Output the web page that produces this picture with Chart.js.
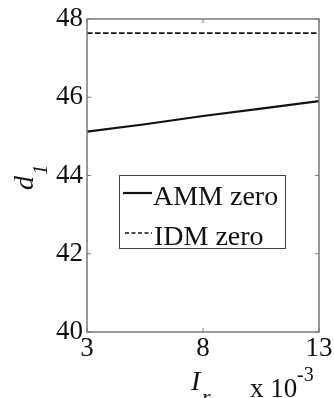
<!DOCTYPE html>
<html>
<head>
<meta charset="utf-8">
<script src="https://cdn.jsdelivr.net/npm/chart.js@4"></script>
<style>
  html, body { margin: 0; padding: 0; background: #fff; }
  #wrap { width: 334px; height: 398px; position: relative; }
</style>
</head>
<body>
<div id="wrap"><canvas id="myChart"></canvas></div>
<script>
// d1 versus Ir (x 10^-3)
const irValues = [3, 5.5, 8, 10.5, 13];
const ammZero = [45.12, 45.31, 45.52, 45.71, 45.90];
const idmZero = [47.64, 47.64, 47.64, 47.64, 47.64];
const xTicks = [3, 8, 13];
const yTicks = [40, 42, 44, 46, 48];

const serif = '"Liberation Serif", "Times New Roman", serif';
const frameColor = '#7a7a7a';

function pts(ys) {
    return irValues.map((x, i) => ({ x: x, y: ys[i] }));
}

// box around the plot, inward ticks, legend box and axis labels
const decorations = {
    id: 'decorations',
    afterDraw(chart) {
        const ctx = chart.ctx;
        const a = chart.chartArea;
        const xs = chart.scales.x;
        const ys = chart.scales.y;
        ctx.save();

        ctx.strokeStyle = frameColor;
        ctx.lineWidth = 1.5;
        ctx.strokeRect(a.left, a.top, a.right - a.left, a.bottom - a.top);

        ctx.lineWidth = 1;
        const tl = 4;
        ctx.beginPath();
        xTicks.forEach(v => {
            const px = xs.getPixelForValue(v);
            ctx.moveTo(px, a.bottom); ctx.lineTo(px, a.bottom - tl);
            ctx.moveTo(px, a.top); ctx.lineTo(px, a.top + tl);
        });
        yTicks.forEach(v => {
            const py = ys.getPixelForValue(v);
            ctx.moveTo(a.left, py); ctx.lineTo(a.left + tl, py);
            ctx.moveTo(a.right, py); ctx.lineTo(a.right - tl, py);
        });
        ctx.stroke();

        // legend
        const lx = 119, ly = 175, lw = 166, lh = 73;
        ctx.fillStyle = '#fff';
        ctx.fillRect(lx, ly, lw, lh);
        ctx.strokeStyle = '#444';
        ctx.lineWidth = 1;
        ctx.strokeRect(lx + 0.5, ly + 0.5, lw, lh);

        ctx.strokeStyle = '#111';
        ctx.lineWidth = 2.2;
        ctx.beginPath();
        ctx.moveTo(123, 193); ctx.lineTo(152, 193);
        ctx.stroke();
        ctx.lineWidth = 1.5;
        ctx.setLineDash([4, 2.5]);
        ctx.beginPath();
        ctx.moveTo(125, 233); ctx.lineTo(152, 233);
        ctx.stroke();
        ctx.setLineDash([]);

        ctx.fillStyle = '#111';
        ctx.textAlign = 'left';
        ctx.textBaseline = 'alphabetic';
        ctx.font = '28px ' + serif;
        ctx.fillText('AMM zero', 153, 205);
        ctx.fillText('IDM zero', 154, 245);

        // x axis label
        ctx.font = 'italic 28px ' + serif;
        ctx.fillText('I', 191, 390);
        ctx.font = 'italic 22px ' + serif;
        ctx.fillText('r', 202, 404);
        ctx.font = '27px ' + serif;
        ctx.fillText('x 10', 250, 397);
        ctx.font = '20px ' + serif;
        ctx.fillText('-3', 297, 381);

        // y axis label
        ctx.translate(33, 190);
        ctx.rotate(-Math.PI / 2);
        ctx.font = 'italic 28px ' + serif;
        ctx.fillText('d', 0, 0);
        const dw = ctx.measureText('d').width;
        ctx.font = 'italic 21px ' + serif;
        ctx.fillText('1', dw + 1, 14);

        ctx.restore();
    }
};

new Chart(document.getElementById('myChart').getContext('2d'), {
    type: 'line',
    data: {
        datasets: [{
            label: 'AMM zero',
            data: pts(ammZero),
            borderColor: '#111',
            borderWidth: 2.2,
            pointRadius: 0,
            fill: false
        }, {
            label: 'IDM zero',
            data: pts(idmZero),
            borderColor: '#111',
            borderWidth: 1.6,
            borderDash: [5.5, 2.5],
            pointRadius: 0,
            fill: false
        }]
    },
    options: {
        responsive: true,
        maintainAspectRatio: false,
        animation: false,
        devicePixelRatio: 1,
        layout: { padding: { left: 0, top: 19, right: 15, bottom: 0 } },
        plugins: {
            legend: { display: false },
            tooltip: { enabled: false }
        },
        scales: {
            x: {
                type: 'linear',
                min: 3,
                max: 13,
                afterFit(scale) {
                    scale.height = 66;
                    scale.paddingLeft = 0;
                    scale.paddingRight = 0;
                },
                afterBuildTicks(scale) { scale.ticks = xTicks.map(v => ({ value: v })); },
                grid: { display: false, drawTicks: false },
                border: { display: false },
                ticks: {
                    padding: 1,
                    color: '#111',
                    font: { family: serif, size: 27 }
                }
            },
            y: {
                type: 'linear',
                min: 40,
                max: 48,
                afterFit(scale) {
                    scale.width = 87;
                    scale.paddingTop = 0;
                    scale.paddingBottom = 0;
                },
                afterBuildTicks(scale) { scale.ticks = yTicks.map(v => ({ value: v })); },
                grid: { display: false, drawTicks: false },
                border: { display: false },
                ticks: {
                    padding: 4,
                    color: '#111',
                    font: { family: serif, size: 27 }
                }
            }
        }
    },
    plugins: [decorations]
});
</script>
</body>
</html>
